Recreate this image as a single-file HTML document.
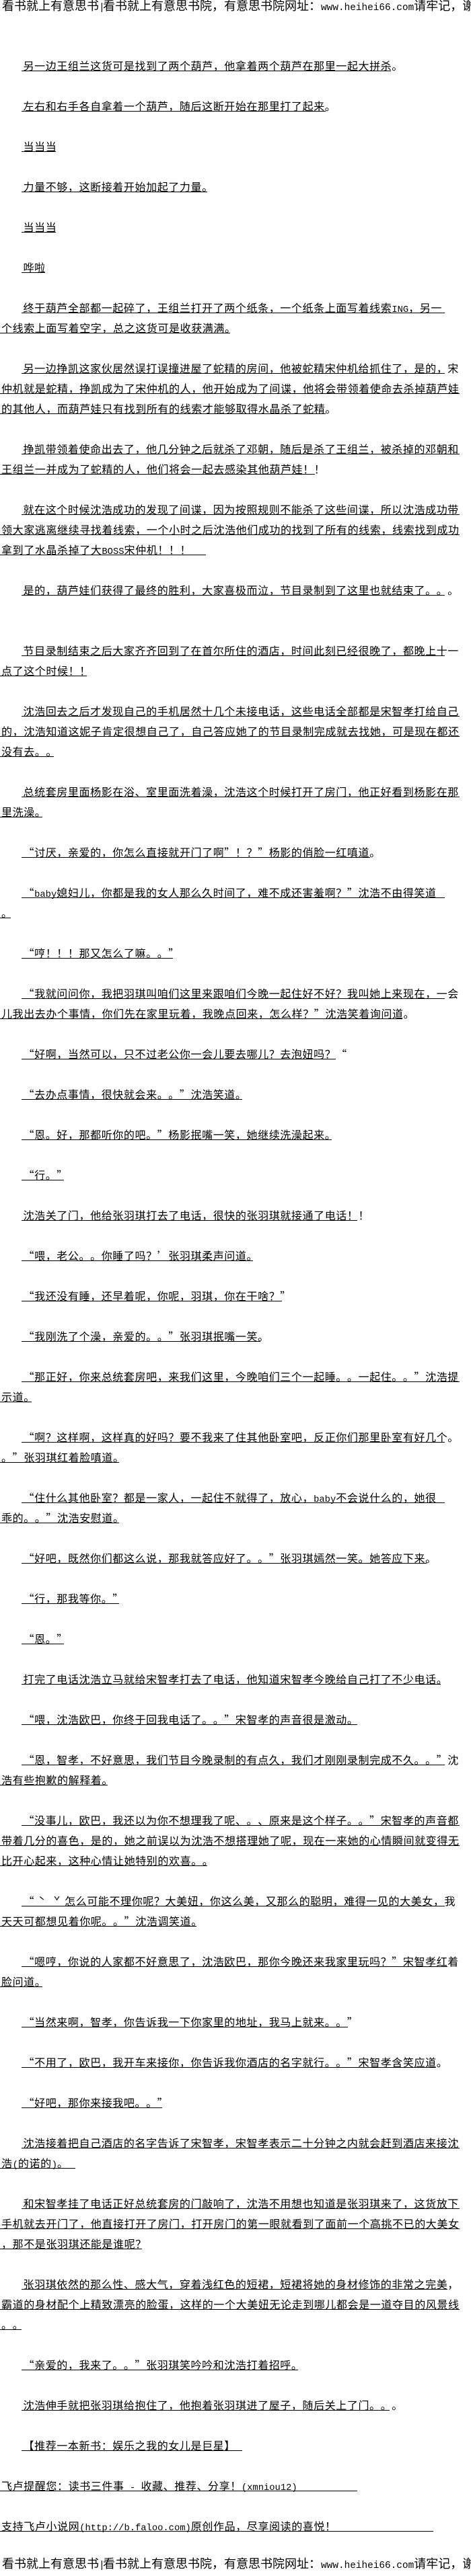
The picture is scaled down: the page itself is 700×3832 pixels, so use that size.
<!DOCTYPE html>
<html lang="zh-CN"><head><meta charset="utf-8"><title>有意思书院</title>
<style>
html,body{margin:0;padding:0;background:#fff}
body{position:relative;width:700px;height:3830px;overflow:hidden;color:#000;font-family:"Noto Sans CJK SC","WenQuanYi Zen Hei","Liberation Sans",sans-serif;text-spacing-trim:space-all;font-kerning:none}
p{position:absolute;left:2px;margin:0;white-space:pre;font-size:16px;letter-spacing:.6px;line-height:30px;height:30px}
p.a{left:34.5px}
p::after{content:"";position:absolute;left:-2px;top:23px;height:1px;width:var(--r);background:#000}
p.a::after{left:-2.5px;width:calc(var(--r) - 32px)}
p.h{left:3px;font-size:18px;letter-spacing:0}
p.h::after{display:none}
b{font-weight:400;font-family:"Liberation Mono",monospace;font-size:13.8px;letter-spacing:0}
p.h b{font-size:14.4px}
b.s{letter-spacing:-2.6px}
s{display:inline-block;width:22.5px;text-align:center;text-decoration:none}
</style></head><body>
<p class="h" style="top:-7px">看书就上有意思书<b class="s">|</b>看书就上有意思书院，有意思书院网址：<b>www.heihei66.com</b>请牢记，谢谢</p>
<p class="a" style="top:82px;--r:581px">另一边王组兰这货可是找到了两个葫芦，他拿着两个葫芦在那里一起大拼杀。</p>
<p class="a" style="top:142px;--r:484px">左右和右手各自拿着一个葫芦，随后这断开始在那里打了起来。</p>
<p class="a" style="top:202px;--r:83px">当当当</p>
<p class="a" style="top:262px;--r:308px">力量不够，这断接着开始加起了力量。</p>
<p class="a" style="top:322px;--r:83px">当当当</p>
<p class="a" style="top:382px;--r:67px">哗啦</p>
<p class="a" style="top:442px;--r:661px">终于葫芦全部都一起碎了，王组兰打开了两个纸条，一个纸条上面写着线索<b>ING</b>，另一</p>
<p style="top:472px;--r:342px">个线索上面写着空字，总之这货可是收获满满。</p>
<p class="a" style="top:532px;--r:661px">另一边挣凯这家伙居然误打误撞进屋了蛇精的房间，他被蛇精宋仲机给抓住了，是的，宋</p>
<p style="top:562px;--r:683px">仲机就是蛇精，挣凯成为了宋仲机的人，他开始成为了间谍，他将会带领着使命去杀掉葫芦娃</p>
<p style="top:592px;--r:484px">的其他人，而葫芦娃只有找到所有的线索才能够取得水晶杀了蛇精。</p>
<p class="a" style="top:652px;--r:683px">挣凯带领着使命出去了，他几分钟之后就杀了邓朝，随后是杀了王组兰，被杀掉的邓朝和</p>
<p style="top:682px;--r:468px">王组兰一并成为了蛇精的人，他们将会一起去感染其他葫芦娃！！</p>
<p class="a" style="top:742px;--r:683px">就在这个时候沈浩成功的发现了间谍，因为按照规则不能杀了这些间谍，所以沈浩成功带</p>
<p style="top:772px;--r:683px">领大家逃离继续寻找着线索，一个小时之后沈浩他们成功的找到了所有的线索，线索找到成功</p>
<p style="top:802px;--r:306px">拿到了水晶杀掉了大<b>BOSS</b>宋仲机！！！</p>
<p class="a" style="top:862px;--r:661px">是的，葫芦娃们获得了最终的胜利，大家喜极而泣，节目录制到了这里也就结束了。。。</p>
<p class="a" style="top:952px;--r:661px">节目录制结束之后大家齐齐回到了在首尔所住的酒店，时间此刻已经很晚了，都晚上十一</p>
<p style="top:982px;--r:129px">点了这个时候！！</p>
<p class="a" style="top:1042px;--r:683px">沈浩回去之后才发现自己的手机居然十几个未接电话，这些电话全部都是宋智孝打给自己</p>
<p style="top:1072px;--r:683px">的，沈浩知道这妮子肯定很想自己了，自己答应她了的节目录制完成就去找她，可是现在都还</p>
<p style="top:1102px;--r:80px">没有去。。</p>
<p class="a" style="top:1162px;--r:683px">总统套房里面杨影在浴、室里面洗着澡，沈浩这个时候打开了房门，他正好看到杨影在那</p>
<p style="top:1192px;--r:63px">里洗澡。</p>
<p class="a" style="top:1252px;--r:550px">“讨厌，亲爱的，你怎么直接就开门了啊”！？”杨影的俏脸一红嗔道。</p>
<p class="a" style="top:1312px;--r:661px">“<b>baby</b>媳妇儿，你都是我的女人那么久时间了，难不成还害羞啊？”沈浩不由得笑道</p>
<p style="top:1342px;--r:16px">。</p>
<p class="a" style="top:1402px;--r:257px">“哼！！！那又怎么了嘛。。”</p>
<p class="a" style="top:1462px;--r:661px">“我就问问你，我把羽琪叫咱们这里来跟咱们今晚一起住好不好？我叫她上来现在，一会</p>
<p style="top:1492px;--r:598px">儿我出去办个事情，你们先在家里玩着，我晚点回来，怎么样？”沈浩笑着询问道。</p>
<p class="a" style="top:1552px;--r:499px">“好啊，当然可以，只不过老公你一会儿要去哪儿？去泡妞吗？“</p>
<p class="a" style="top:1612px;--r:360px">“去办点事情，很快就会来。。”沈浩笑道。</p>
<p class="a" style="top:1672px;--r:493px">“恩。好，那都听你的吧。”杨影抿嘴一笑，她继续洗澡起来。</p>
<p class="a" style="top:1732px;--r:95px">“行。”</p>
<p class="a" style="top:1792px;--r:531px">沈浩关了门，他给张羽琪打去了电话，很快的张羽琪就接通了电话！！</p>
<p class="a" style="top:1852px;--r:376px">“喂，老公。。你睡了吗？’张羽琪柔声问道。</p>
<p class="a" style="top:1912px;--r:419px">“我还没有睡，还早着呢，你呢，羽琪，你在干啥？”</p>
<p class="a" style="top:1972px;--r:387px">“我刚洗了个澡，亲爱的。。”张羽琪抿嘴一笑。</p>
<p class="a" style="top:2032px;--r:683px">“那正好，你来总统套房吧，来我们这里，今晚咱们三个一起睡。。一起住。。”沈浩提</p>
<p style="top:2062px;--r:47px">示道。</p>
<p class="a" style="top:2122px;--r:661px">“啊？这样啊，这样真的好吗？要不我来了住其他卧室吧，反正你们那里卧室有好几个。</p>
<p style="top:2152px;--r:177px">。”张羽琪红着脸嗔道。</p>
<p class="a" style="top:2212px;--r:661px">“住什么其他卧室？都是一家人，一起住不就得了，放心，<b>baby</b>不会说什么的，她很</p>
<p style="top:2242px;--r:177px">乖的。。”沈浩安慰道。</p>
<p class="a" style="top:2302px;--r:634px">“好吧，既然你们都这么说，那我就答应好了。。”张羽琪嫣然一笑。她答应下来。</p>
<p class="a" style="top:2362px;--r:177px">“行，那我等你。”</p>
<p class="a" style="top:2422px;--r:95px">“恩。”</p>
<p class="a" style="top:2482px;--r:655px">打完了电话沈浩立马就给宋智孝打去了电话，他知道宋智孝今晚给自己打了不少电话。</p>
<p class="a" style="top:2542px;--r:531px">“喂，沈浩欧巴，你终于回我电话了。。”宋智孝的声音很是激动。</p>
<p class="a" style="top:2602px;--r:661px">“恩，智孝，不好意思，我们节目今晚录制的有点久，我们才刚刚录制完成不久。。”沈</p>
<p style="top:2632px;--r:160px">浩有些抱歉的解释着。</p>
<p class="a" style="top:2692px;--r:683px">“没事儿，欧巴，我还以为你不想理我了呢、。、原来是这个样子。。”宋智孝的声音都</p>
<p style="top:2722px;--r:683px">带着几分的喜色，是的，她之前误以为沈浩不想搭理她了呢，现在一来她的心情瞬间就变得无</p>
<p style="top:2752px;--r:308px">比开心起来，这种心情让她特别的欢喜。。</p>
<p class="a" style="top:2812px;--r:661px">“<s>ˋ</s><s>ˇ</s>怎么可能不理你呢？大美妞，你这么美，又那么的聪明，难得一见的大美女，我</p>
<p style="top:2842px;--r:292px">天天可都想见着你呢。。”沈浩调笑道。</p>
<p class="a" style="top:2902px;--r:665px">“嗯哼，你说的人家都不好意思了，沈浩欧巴，那你今晚还来我家里玩吗？”宋智孝红着</p>
<p style="top:2932px;--r:63px">脸问道。</p>
<p class="a" style="top:2992px;--r:517px">“当然来啊，智孝，你告诉我一下你家里的地址，我马上就来。。”</p>
<p class="a" style="top:3052px;--r:648px">“不用了，欧巴，我开车来接你，你告诉我你酒店的名字就行。。”宋智孝含笑应道。</p>
<p class="a" style="top:3112px;--r:241px">“好吧，那你来接我吧。。”</p>
<p class="a" style="top:3172px;--r:683px">沈浩接着把自己酒店的名字告诉了宋智孝，宋智孝表示二十分钟之内就会赶到酒店来接沈</p>
<p style="top:3202px;--r:112px">浩<b>(</b>的诺的<b>)</b>。</p>
<p class="a" style="top:3262px;--r:683px">和宋智孝挂了电话正好总统套房的门敲响了，沈浩不用想也知道是张羽琪来了，这货放下</p>
<p style="top:3292px;--r:683px">手机就去开门了，他直接打开了房门，打开房门的第一眼就看到了面前一个高挑不已的大美女</p>
<p style="top:3322px;--r:211px">，那不是张羽琪还能是谁呢？</p>
<p class="a" style="top:3382px;--r:665px">张羽琪依然的那么性、感大气，穿着浅红色的短裙，短裙将她的身材修饰的非常之完美，</p>
<p style="top:3412px;--r:683px">霸道的身材配个上精致漂亮的脸蛋，这样的一个大美妞无论走到哪儿都会是一道夺目的风景线</p>
<p style="top:3442px;--r:32px">。。</p>
<p class="a" style="top:3502px;--r:443px">“亲爱的，我来了。。”张羽琪笑吟吟和沈浩打着招呼。</p>
<p class="a" style="top:3562px;--r:579px">沈浩伸手就把张羽琪给抱住了，他抱着张羽琪进了屋子，随后关上了门。。。</p>
<p class="a" style="top:3622px;--r:360px">【推荐一本新书：娱乐之我的女儿是巨星】</p>
<p style="top:3682px;--r:531px">飞卢提醒您：读书三件事<b> - </b>收藏、推荐、分享！<b>(xmniou12)</b></p>
<p style="top:3742px;--r:644px">支持飞卢小说网<b>(http://b.faloo.com)</b>原创作品，尽享阅读的喜悦！</p>
<p class="h" style="top:3798px">看书就上有意思书<b class="s">|</b>看书就上有意思书院，有意思书院网址：<b>www.heihei66.com</b>请牢记，谢谢</p>
</body></html>
